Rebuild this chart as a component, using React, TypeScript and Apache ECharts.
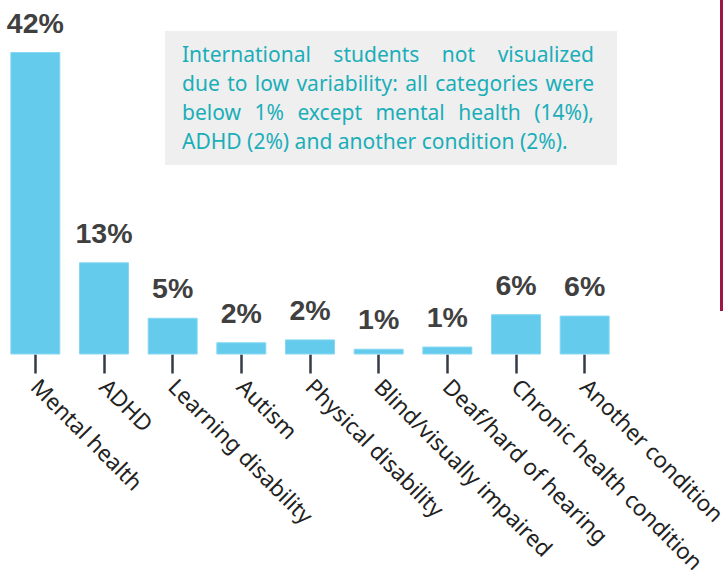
import React, { useEffect, useRef } from "react";
import * as echarts from "echarts";

const categories = [
  "Mental health",
  "ADHD",
  "Learning disability",
  "Autism",
  "Physical disability",
  "Blind/visually impaired",
  "Deaf/hard of hearing",
  "Chronic health condition",
  "Another condition",
];
const values = [42, 12.8, 5.1, 1.7, 2.1, 0.8, 1.1, 5.6, 5.4];
const valueLabels = ["42%", "13%", "5%", "2%", "2%", "1%", "1%", "6%", "6%"];

const noteLine1 = ["International", "students", "not", "visualized"];
const noteLine2 = ["due", "to", "low", "variability:", "all", "categories", "were"];
const noteLine3 = ["below", "1%", "except", "mental", "health", "(14%),"];
const noteLine4 = "ADHD (2%) and another condition (2%).";

const NOTE_FONT = "'Noto Sans', sans-serif";
const NOTE_COLOR = "#1aaeb9";
const NOTE_SIZE = 21;

function justifyLine(words: string[], y: number, left: number, right: number, justify: boolean) {
  const font = `${NOTE_SIZE}px ${NOTE_FONT}`;
  const c = document.createElement("canvas").getContext("2d")!;
  c.font = font;
  const ws = words.map((w) => c.measureText(w).width);
  const total = ws.reduce((a, b) => a + b, 0);
  const space = c.measureText(" ").width;
  const gap = justify && words.length > 1 ? (right - left - total) / (words.length - 1) : space;
  let x = left;
  return words.map((w, i) => {
    const el = {
      type: "text",
      x,
      y,
      style: {
        text: w,
        font,
        fill: NOTE_COLOR,
        textVerticalAlign: "middle",
        textAlign: "left",
      },
      z: 10,
    };
    x += ws[i] + gap;
    return el;
  });
}

export default function App() {
  const ref = useRef<HTMLDivElement>(null);
  useEffect(() => {
    if (!ref.current) return;
    const chart = echarts.init(ref.current, null, { renderer: "svg" });
    const left = 182;
    const right = 594;
    const graphics: any[] = [
      {
        type: "rect",
        shape: { x: 165, y: 31, width: 452, height: 134 },
        style: { fill: "#efefef" },
        z: 5,
      },
      ...justifyLine(noteLine1, 54, left, right, true),
      ...justifyLine(noteLine2, 83, left, right, true),
      ...justifyLine(noteLine3, 112, left, right, true),
      {
        type: "text",
        x: left,
        y: 141,
        style: {
          text: noteLine4,
          font: `${NOTE_SIZE}px ${NOTE_FONT}`,
          fill: NOTE_COLOR,
          textVerticalAlign: "middle",
          textAlign: "left",
        },
        z: 10,
      },
      {
        type: "rect",
        shape: { x: 720, y: 0, width: 3, height: 311 },
        style: { fill: "#9c1646" },
        z: 5,
      },
    ];
    chart.setOption({
      animation: false,
      grid: {
        left: 1,
        right: 104,
        top: 52,
        bottom: 231.5,
        containLabel: false,
        outerBoundsMode: "none",
      },
      xAxis: {
        type: "category",
        data: categories,
        axisLine: { show: false },
        axisTick: {
          show: true,
          alignWithLabel: true,
          length: 19,
          lineStyle: { color: "#343a46", width: 2.5 },
        },
        axisLabel: {
          rotate: -45,
          margin: 28,
          interval: 0,
          fontSize: 22.5,
          color: "#222",
          fontFamily: "'Noto Sans', sans-serif",
        },
      },
      yAxis: {
        type: "value",
        min: 0,
        max: 42,
        show: false,
        splitLine: { show: false },
      },
      series: [
        {
          type: "bar",
          data: values,
          barWidth: 50,
          itemStyle: { color: "#64cbed", borderColor: "#86d8f2", borderWidth: 1 },
          label: {
            show: true,
            position: "top",
            distance: 15,
            formatter: (p: any) => valueLabels[p.dataIndex],
            fontSize: 28.5,
            fontWeight: "bold",
            color: "#404040",
            fontFamily: "'Liberation Sans', Arial, sans-serif",
          },
        },
      ],
      graphic: graphics,
    });
    return () => chart.dispose();
  }, []);
  return <div ref={ref} style={{ width: 723, height: 586, position: "absolute", left: 0, top: 0 }} />;
}
